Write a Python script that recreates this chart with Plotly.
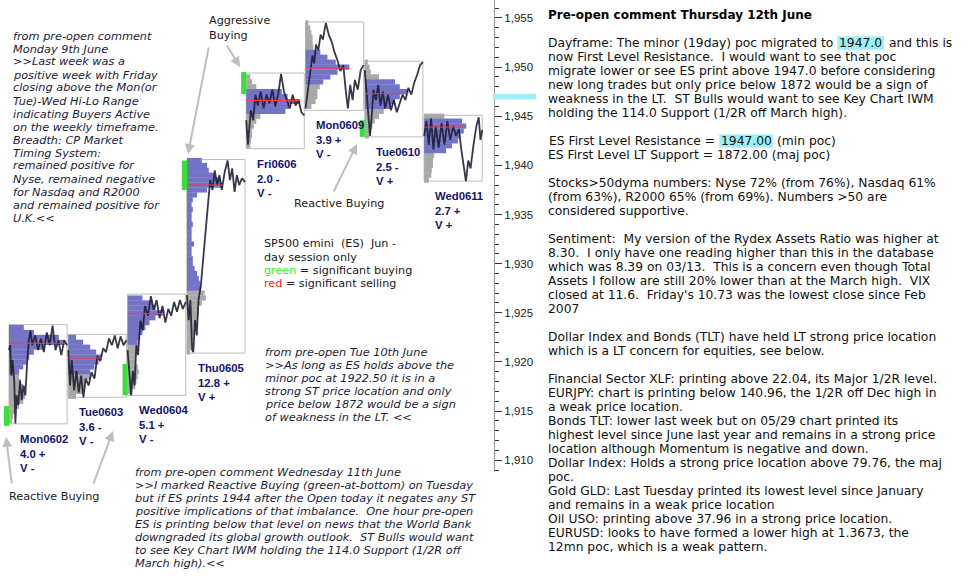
import plotly.graph_objects as go

# ---------------- data ----------------
days = ["Mon0602", "Tue0603", "Wed0604", "Thu0605", "Fri0606", "Mon0609", "Tue0610", "Wed0611"]
ratios = ["4.0 +", "3.6 -", "5.1 +", "12.8 +", "2.0 -", "3.9 +", "2.5 -", "2.7 +"]
vsigns = ["V -", "V -", "V -", "V +", "V -", "V -", "V +", "V +"]

day_high = [1923.8, 1922.8, 1926.9, 1940.6, 1949.4, 1954.6, 1950.6, 1945.1]
day_low = [1913.7, 1916.4, 1916.6, 1920.9, 1941.7, 1945.6, 1942.9, 1938.4]
poc = [1921.9, 1920.4, 1924.9, 1938.0, 1946.6, 1949.9, 1947.3, 1943.9]
va_high = [1923.5, 1922.5, 1926.5, 1940.5, 1947.5, 1951.5, 1948.5, 1944.5]
va_low = [1919.0, 1919.0, 1922.0, 1927.5, 1945.5, 1948.5, 1946.0, 1941.5]

# volume profiles: top price level and lengths (share of the day) per 0.5 pt level, top -> bottom
prof_top = [1923.5, 1922.5, 1926.5, 1940.5, 1949.0, 1954.5, 1950.5, 1945.0]
prof_mon0602 = [.25, .42, .84, .94, .59, .42, .34, .30, .24, .17, .17, .20, .24, .24, .27, .24, .17, .10, .07, .05]
prof_tue0603 = [.13, .25, .37, .47, .57, .51, .44, .37, .37, .30, .27, .24, .13]
prof_wed0604 = [.25, .42, .47, .62, .47, .37, .30, .25, .20, .17, .17, .15, .13, .13, .17, .19, .17, .15, .13, .08]
prof_thu0605 = [.25, .34, .37, .47, .56, .61, .34, .17, .10, .08, .10, .08, .08, .10, .08, .08, .08, .12, .08, .08,
                .10, .10, .13, .17, .20, .22, .24, .30, .32, .25, .20, .20, .17, .17, .13, .13, .10, .08, .07, .05]
prof_fri0606 = [.07, .10, .17, .60, .70, .91, .72, .66, .24, .17, .13, .10, .10, .08, .07]
prof_mon0609 = [.05, .08, .10, .12, .12, .13, .25, .37, .51, .74, .54, .42, .30, .24, .20, .20, .17, .10]
prof_tue0610 = [.05, .08, .10, .24, .51, .59, .73, .59, .51, .44, .32, .24, .17, .13, .10, .07]
prof_wed0611 = [.34, .64, .71, .67, .61, .57, .47, .37, .17, .15, .15, .13, .12, .08]
profiles = [prof_mon0602, prof_tue0603, prof_wed0604, prof_thu0605,
            prof_fri0606, prof_mon0609, prof_tue0610, prof_wed0611]

# intraday price paths: time as share of the session, price
mon0602_t = [0, .02, .04, .06, .09, .11, .13, .16, .19, .22, .25, .28, .31, .34, .37, .40, .45, .50, .55, .60, .65, .70, .75, .80, .85, .90, .95, 1]
mon0602_p = [1921.2, 1921.7, 1918.6, 1920.2, 1918.1, 1913.75, 1916.6, 1915.6, 1918.1, 1916.1, 1917.6, 1916.6, 1919.7, 1922.2,
             1923.2, 1921.7, 1922.7, 1921.2, 1922.4, 1921.0, 1923.0, 1921.7, 1923.7, 1921.2, 1922.2, 1920.7, 1922.2, 1921.7]
tue0603_t = [0, .03, .06, .10, .14, .18, .22, .26, .30, .35, .40, .45, .50, .55, .60, .65, .70, .75, .80, .85, .90, .95, 1]
tue0603_p = [1921.2, 1917.6, 1920.2, 1917.1, 1919.1, 1916.9, 1918.6, 1916.4, 1918.3, 1917.6, 1918.95, 1918.3, 1920.6, 1920.1,
             1921.4, 1921.0, 1922.4, 1921.7, 1922.7, 1921.4, 1922.6, 1921.7, 1922.2]
wed0604_t = [0, .03, .06, .09, .12, .15, .18, .22, .26, .30, .35, .40, .45, .50, .55, .60, .65, .70, .75, .80, .85, .90, .95, 1]
wed0604_p = [1921.2, 1918.6, 1916.6, 1919.1, 1917.6, 1921.7, 1920.7, 1924.2, 1923.2, 1925.7, 1924.7, 1926.7, 1925.3, 1926.3,
             1924.45, 1925.7, 1924.0, 1925.4, 1924.7, 1926.1, 1925.1, 1926.3, 1925.4, 1926.1]
thu0605_t = [0, .03, .06, .09, .11, .14, .17, .20, .24, .28, .32, .36, .40, .44, .48, .52, .56, .60, .65, .70, .74, .78, .82, .86, .90, .95, 1]
thu0605_p = [1926.8, 1924.25, 1926.3, 1921.2, 1921.0, 1924.25, 1922.7, 1926.3, 1927.8, 1930.35, 1933.4, 1936.0, 1938.5, 1937.5,
             1939.5, 1938.0, 1939.0, 1937.5, 1939.3, 1940.5, 1938.5, 1939.7, 1937.3, 1939.0, 1938.0, 1938.7, 1938.3]
fri0606_t = [0, .03, .05, .08, .12, .16, .20, .25, .30, .35, .40, .45, .50, .55, .60, .65, .70, .75, .80, .85, .90, .95, 1]
fri0606_p = [1944.6, 1942.1, 1943.6, 1945.6, 1944.6, 1947.2, 1946.1, 1947.5, 1945.8, 1947.2, 1946.3, 1947.7, 1946.0, 1947.2,
             1949.3, 1947.5, 1946.65, 1945.8, 1947.2, 1946.1, 1946.65, 1945.4, 1945.1]
mon0609_t = [0, .03, .06, .09, .12, .15, .18, .22, .26, .30, .35, .40, .45, .50, .55, .60, .65, .70, .73, .77, .81, .85, .90, .95, 1]
mon0609_p = [1945.8, 1947.2, 1948.7, 1949.5, 1951.2, 1950.4, 1952.3, 1951.7, 1953.3, 1952.8, 1954.5, 1953.3, 1952.6, 1951.5,
             1950.7, 1949.6, 1950.2, 1947.2, 1945.8, 1948.2, 1946.65, 1948.7, 1947.7, 1949.7, 1950.2]
tue0610_t = [0, .03, .06, .09, .12, .15, .19, .23, .27, .31, .35, .40, .45, .50, .55, .60, .65, .70, .75, .80, .85, .90, .95, 1]
tue0610_p = [1949.7, 1947.7, 1945.6, 1943.0, 1945.1, 1947.7, 1946.65, 1948.2, 1946.1, 1947.5, 1945.8, 1947.2, 1945.6, 1946.65,
             1945.4, 1946.4, 1947.2, 1946.65, 1947.9, 1947.2, 1948.4, 1949.2, 1950.2, 1950.5]
wed0611_t = [0, .04, .08, .12, .16, .20, .25, .30, .35, .40, .45, .50, .55, .60, .64, .68, .72, .76, .80, .85, .90, .94, .97, 1]
wed0611_p = [1943.0, 1944.5, 1942.1, 1944.8, 1941.6, 1944.0, 1941.8, 1944.3, 1942.1, 1944.5, 1942.6, 1944.0, 1943.0, 1943.7,
             1941.6, 1940.0, 1938.4, 1940.5, 1939.7, 1942.1, 1944.0, 1944.9, 1942.6, 1943.6]
paths_t = [mon0602_t, tue0603_t, wed0604_t, thu0605_t, fri0606_t, mon0609_t, tue0610_t, wed0611_t]
paths_p = [mon0602_p, tue0603_p, wed0604_p, thu0605_p, fri0606_p, mon0609_p, tue0610_p, wed0611_p]

# significant buying (green) markers
buy_day = [0, 2, 3, 4, 6]
buy_low = [1913.5, 1916.6, 1937.5, 1947.25, 1942.9]
buy_high = [1915.5, 1919.8, 1940.5, 1949.5, 1944.6]

minor_poc = 1947.0

# ---------------- layout geometry ----------------
W, H = 963, 582
PW, PH = 494, 472          # plot area in px
DAY_PX, DAY0_PX = 59.3, 9  # px per session, left px of the first session
X_RANGE = [(0 - DAY0_PX) / DAY_PX, (PW - DAY0_PX) / DAY_PX]
Y_RANGE = [1908.8, 1956.83]
SPAN = 0.98
BIN = 0.5

BLUE = "#7474C6"
GREY = "#A9A9A9"
CYAN = "#9EF0F8"
LINE = "rgba(28,28,48,0.88)"

fig = go.Figure()
shapes = []
anns = []

for i in range(len(days)):
    w = profiles[i]
    levels = [prof_top[i] - BIN * k for k in range(len(w))]
    by = [lv for lv, ww in zip(levels, w) if va_low[i] <= lv <= va_high[i]]
    bw = [ww for lv, ww in zip(levels, w) if va_low[i] <= lv <= va_high[i]]
    gy = [lv for lv, ww in zip(levels, w) if not (va_low[i] <= lv <= va_high[i])]
    gw = [ww for lv, ww in zip(levels, w) if not (va_low[i] <= lv <= va_high[i])]
    fig.add_trace(go.Bar(orientation="h", y=gy, x=gw, base=[i] * len(gy), width=BIN * 1.06,
                         marker=dict(color=GREY, line=dict(width=0)), hoverinfo="skip"))
    fig.add_trace(go.Bar(orientation="h", y=by, x=bw, base=[i] * len(by), width=BIN * 1.06,
                         marker=dict(color=BLUE, line=dict(width=0)), hoverinfo="skip"))
    fig.add_trace(go.Scatter(x=[i + t * SPAN for t in paths_t[i]], y=paths_p[i], mode="lines",
                             line=dict(color=LINE, width=1.8), hoverinfo="skip"))
    fig.add_trace(go.Scatter(x=[i, i + max(w)], y=[poc[i], poc[i]], mode="lines",
                             line=dict(color="#FF3B3B", width=1), hoverinfo="skip"))
    shapes.append(dict(type="rect", xref="x", yref="y", x0=i, x1=i + SPAN, y0=day_low[i], y1=day_high[i],
                       line=dict(color="#BDBDBD", width=1), layer="below"))
    anns.append(dict(xref="x", yref="y", x=i + 0.15, y=day_low[i], xanchor="left", yanchor="top",
                     yshift=-7, showarrow=False, align="left",
                     text="<b>%s<br>%s<br>%s</b>" % (days[i], ratios[i], vsigns[i]),
                     font=dict(family="Liberation Sans", size=11.3, color="#14146E")))

for d, lo, hi in zip(buy_day, buy_low, buy_high):
    shapes.append(dict(type="rect", xref="x", yref="y", x0=d - 0.085, x1=d, y0=lo, y1=hi,
                       fillcolor="#34E234", line=dict(width=0), layer="above"))


def ypaper(price):
    return (price - Y_RANGE[0]) / (Y_RANGE[1] - Y_RANGE[0])


# cyan band for the minor poc, next to the axis
shapes.append(dict(type="rect", xref="paper", yref="paper", x0=493 / PW, x1=536 / PW,
                   y0=ypaper(minor_poc - 0.3), y1=ypaper(minor_poc + 0.3),
                   fillcolor=CYAN, line=dict(width=0), layer="above"))


def text_at(x_px, y_px, text, font, xanchor="left"):
    anns.append(dict(xref="paper", yref="paper", x=x_px / PW, y=1 - y_px / PH, xanchor=xanchor,
                     yanchor="middle", text=text, showarrow=False, font=font, borderpad=0, align="left"))


def block(lines, x_px, y0_px, dy, font):
    for k, line in enumerate(lines):
        if line:
            text_at(x_px, y0_px + k * dy, line, font)


def arrow(tail, head):
    anns.append(dict(xref="paper", yref="paper", x=head[0] / PW, y=1 - head[1] / PH,
                     ax=tail[0] - head[0], ay=tail[1] - head[1], axref="pixel", ayref="pixel",
                     text="", showarrow=True, arrowhead=2, arrowsize=1, arrowwidth=2,
                     arrowcolor="#BEBEBE", standoff=0))


note_font = dict(family="DejaVu Sans", size=11.3, color="#1C1C38")
body_font = dict(family="DejaVu Sans", size=12.3, color="#111111")
lab_font = dict(family="DejaVu Sans", size=11.2, color="#1A1A1A")

notes_mon = ["from pre-open comment", "Monday 9th June", "&gt;&gt;Last week was a", "positive week with Friday",
             "closing above the Mon(or", "Tue)-Wed Hi-Lo Range", "indicating Buyers Active",
             "on the weekly timeframe.", "Breadth: CP Market", "Timing System:", "remained positive for",
             "Nyse, remained negative", "for Nasdaq and R2000", "and remained positive for", "U.K.&lt;&lt;"]
block(["<i>%s</i>" % s for s in notes_mon], 12, 36, 13, note_font)

notes_tue = ["from pre-open Tue 10th June", "&gt;&gt;As long as ES holds above the",
             "minor poc at 1922.50 it is in a", "strong ST price location and only",
             "price below 1872 would be a sign", "of weakness in the LT. &lt;&lt;"]
block(["<i>%s</i>" % s for s in notes_tue], 264, 352.3, 12.95, note_font)

notes_wed = ["from pre-open comment Wednesday 11th June",
             "&gt;&gt;I marked Reactive Buying (green-at-bottom) on Tuesday",
             "but if ES prints 1944 after the Open today it negates any ST",
             "positive implications of that imbalance.  One hour pre-open",
             "ES is printing below that level on news that the World Bank",
             "downgraded its global growth outlook.  ST Bulls would want",
             "to see Key Chart IWM holding the 114.0 Support (1/2R off",
             "March high).&lt;&lt;"]
block(["<i>%s</i>" % s for s in notes_wed], 134, 472.3, 13, note_font)

legend_lines = ["SP500 emini  (ES)  Jun -", "day session only",
                "<span style='color:#33EE33'>green</span> = significant buying",
                "<span style='color:#FF2222'>red</span> = significant selling"]
block(legend_lines, 263, 244, 13, lab_font)

block(["Aggressive", "Buying"], 208, 21, 14, lab_font)
text_at(293, 203, "Reactive Buying", lab_font)
text_at(8, 496, "Reactive Buying", lab_font)

arrow((226, 44), (240, 67))
arrow((209, 46), (188, 154))
arrow((12, 485), (6, 437))
arrow((93, 485), (113, 431))
arrow((333, 193), (357, 144))

# right-hand commentary
RX = 547.3
text_at(RX, 14.7, "<b>Pre-open comment Thursday 12th June</b>",
        dict(family="DejaVu Sans", size=12, color="#000000"))
body = ["", "now First Level Resistance.  I would want to see that poc",
        "migrate lower or see ES print above 1947.0 before considering",
        "new long trades but only price below 1872 would be a sign of",
        "weakness in the LT.  ST Bulls would want to see Key Chart IWM",
        "holding the 114.0 Support (1/2R off March high).", "",
        "", "ES First Level LT Support = 1872.00 (maj poc)", "",
        "Stocks&gt;50dyma numbers: Nyse 72% (from 76%), Nasdaq 61%",
        "(from 63%), R2000 65% (from 69%). Numbers &gt;50 are", "considered supportive.", "",
        "Sentiment:  My version of the Rydex Assets Ratio was higher at",
        "8.30.  I only have one reading higher than this in the database",
        "which was 8.39 on 03/13.  This is a concern even though Total",
        "Assets I follow are still 20% lower than at the March high.  VIX",
        "closed at 11.6.  Friday's 10.73 was the lowest close since Feb", "2007", "",
        "Dollar Index and Bonds (TLT) have held LT strong price location",
        "which is a LT concern for equities, see below.", "",
        "Financial Sector XLF: printing above 22.04, its Major 1/2R level.",
        "EURJPY: chart is printing below 140.96, the 1/2R off Dec high in",
        "a weak price location.",
        "Bonds TLT: lower last week but on 05/29 chart printed its",
        "highest level since June last year and remains in a strong price",
        "location although Momentum is negative and down.",
        "Dollar Index: Holds a strong price location above 79.76, the maj",
        "poc.",
        "Gold GLD: Last Tuesday printed its lowest level since January",
        "and remains in a weak price location",
        "Oil USO: printing above 37.96 in a strong price location.",
        "EURUSD: looks to have formed a lower high at 1.3673, the",
        "12mn poc, which is a weak pattern."]
BY0, BDY = 42.7, 14
block(body, RX, BY0, BDY, body_font)

# highlighted lines: (line index, prefix, value, suffix, box left px, box right px)
highlights = [(0, "Dayframe: The minor (19day) poc migrated to", "1947.0", "and this is", 837.3, 884.0),
              (7, "ES First Level Resistance =", "1947.00", "(min poc)", 719.3, 772.7)]
for k, pre, val, suf, x0, x1 in highlights:
    yc = BY0 + k * BDY
    shapes.append(dict(type="rect", xref="paper", yref="paper", x0=x0 / PW, x1=x1 / PW,
                       y0=1 - (yc + 7) / PH, y1=1 - (yc - 6.5) / PH,
                       fillcolor=CYAN, line=dict(width=0), layer="below"))
    text_at((x0 + x1) / 2, yc, val, body_font, xanchor="center")
    text_at(x0 - 3.6, yc, pre, body_font, xanchor="right")
    text_at(x1 + 3.6, yc, suf, body_font, xanchor="left")

fig.update_layout(
    width=W, height=H, autosize=False,
    margin=dict(l=0, r=W - PW, t=0, b=H - PH, pad=0),
    paper_bgcolor="white", plot_bgcolor="white",
    showlegend=False, barmode="overlay",
    shapes=shapes, annotations=anns,
    xaxis=dict(range=X_RANGE, visible=False, fixedrange=True),
    yaxis=dict(range=Y_RANGE, side="right", showgrid=False, zeroline=False,
               showline=True, linecolor="#9A9A9A", linewidth=1,
               ticks="outside", ticklen=7, tickwidth=1, tickcolor="#333333",
               tick0=1910, dtick=5, tickformat=",d",
               tickfont=dict(family="Liberation Sans", size=11.5, color="#222222"),
               minor=dict(dtick=1, ticks="outside", ticklen=4, tickcolor="#333333", showgrid=False),
               fixedrange=True),
)

fig.write_html("out.html", config={"displayModeBar": False},
               post_script="document.body.style.margin='0';document.body.style.padding='0';"
                           "document.body.style.overflow='hidden';")
